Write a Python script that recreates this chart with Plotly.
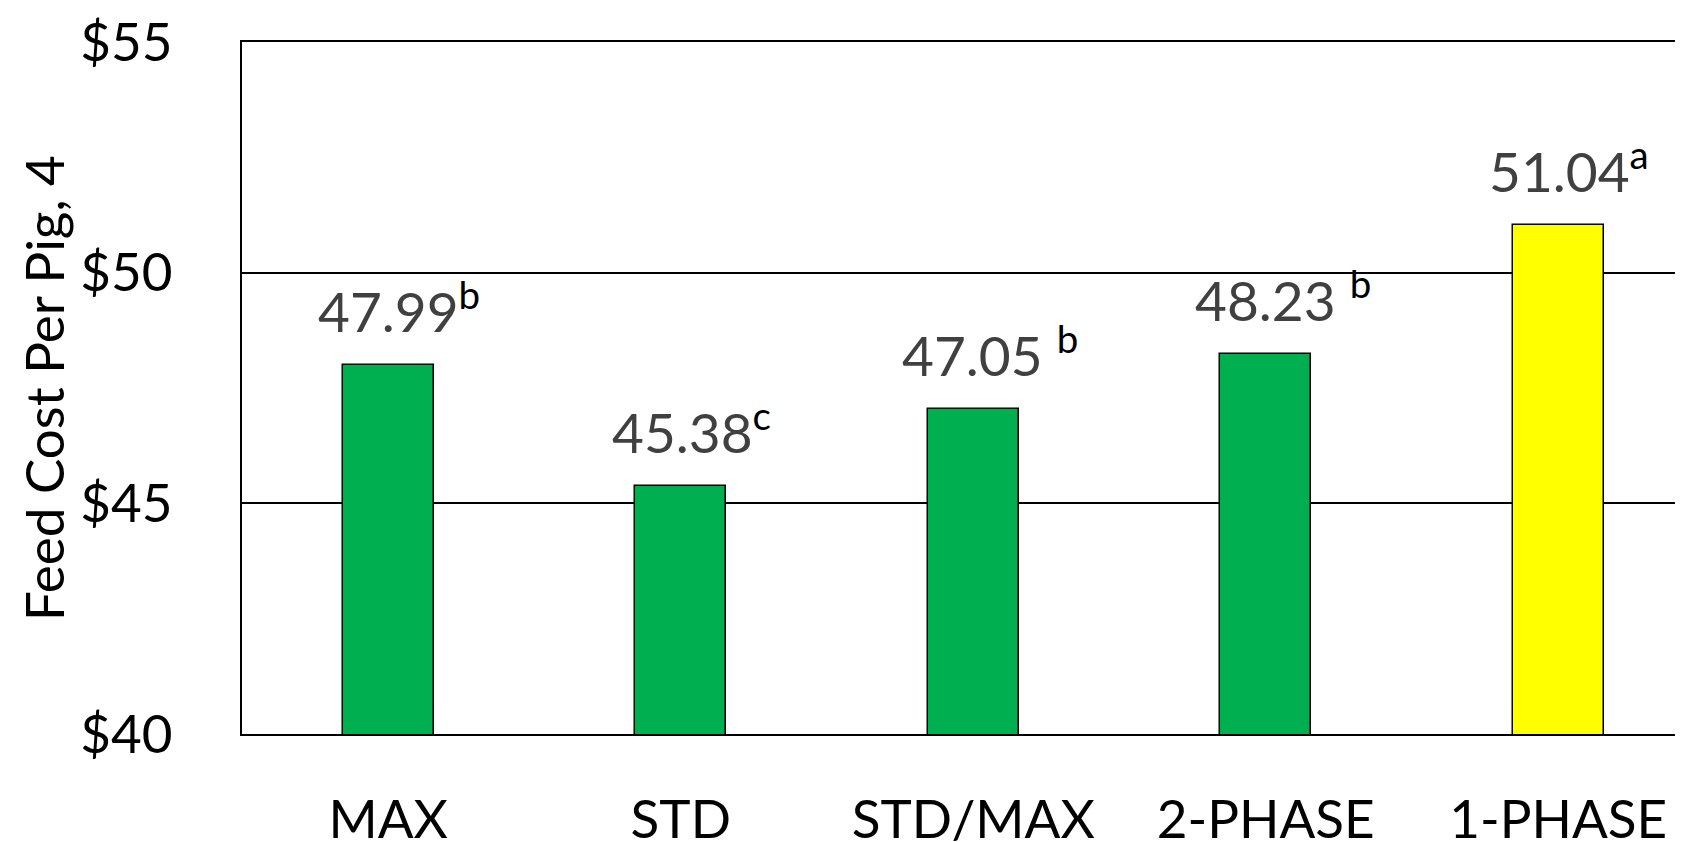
import plotly.graph_objects as go

categories = ["MAX", "STD", "STD/MAX", "2-PHASE", "1-PHASE"]
values = [47.99, 45.38, 47.05, 48.23, 51.04]
letters = ["b", "c", "b", "b", "a"]
letter_sep = ["", "", " ", " ", ""]
bar_colors = ["#00B050", "#00B050", "#00B050", "#00B050", "#FFFF00"]
y_ticks = [40, 45, 50, 55]
y_tick_labels = ["$40", "$45", "$50", "$55"]
y_title = "Feed Cost Per Pig, 4"

FONT = "Lato"
# page body adds an 8px offset; size the figure so it fills the window exactly
W, H = 1675, 834
ML, MR, MT, MB = 234, 0, 34, 108

fig = go.Figure()
fig.add_trace(go.Bar(
    x=categories, y=values, width=0.312,
    marker=dict(color=bar_colors, line=dict(color="black", width=1.5)),
    hoverinfo="skip",
))

for c, v, l, s in zip(categories, values, letters, letter_sep):
    fig.add_annotation(
        x=c, y=v, xref="x", yref="y",
        text=f"{v:.2f}{s}<span style='color:black'><sup>{l}</sup></span>",
        showarrow=False, yanchor="bottom", xanchor="center",
        yshift=19, xshift=(17 if s else 11),
        font=dict(family=FONT, size=55, color="#404040"),
    )

fig.add_annotation(
    text=y_title, textangle=-90, showarrow=False,
    xref="paper", yref="paper", x=(35 - ML) / (W - ML - MR), y=0.5,
    xanchor="center", yanchor="middle",
    font=dict(family=FONT, size=53, color="black"),
)

fig.update_layout(
    width=W, height=H,
    margin=dict(l=ML, r=MR, t=MT, b=MB, autoexpand=False),
    paper_bgcolor="white", plot_bgcolor="white",
    showlegend=False,
    bargap=0,
    xaxis=dict(
        range=[-0.5, -0.5 + (W - ML - MR) / 292.5],
        showline=True, mirror=True, linecolor="black", linewidth=2,
        showgrid=False, ticks="", ticklabelstandoff=38,
        tickfont=dict(family=FONT, size=53, color="black"),
        fixedrange=True,
    ),
    yaxis=dict(
        range=[40, 55], tickvals=y_ticks, ticktext=y_tick_labels,
        showline=True, linecolor="black", linewidth=2,
        showgrid=True, gridcolor="black", gridwidth=1.5,
        zeroline=False, ticks="", ticklabelstandoff=57,
        tickfont=dict(family=FONT, size=53, color="black"),
        fixedrange=True,
    ),
)

fig.write_html("out.html")
